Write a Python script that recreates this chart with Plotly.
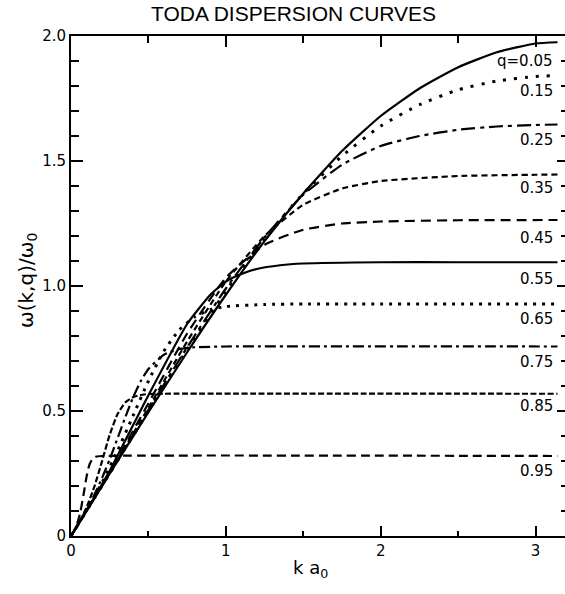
import plotly.graph_objects as go

# Toda lattice dispersion curves, omega(k, q) / omega_0 versus k a_0
k05 = [0, 0.25, 0.5, 0.75, 1.0, 1.25, 1.5, 1.75, 2.0, 2.25, 2.5, 2.75, 3.0, 3.1416]
w05 = [0, 0.25, 0.495, 0.735, 0.965, 1.18, 1.37, 1.54, 1.68, 1.79, 1.875, 1.935, 1.97, 1.975]

k15 = [0, 0.25, 0.5, 0.75, 1.0, 1.25, 1.5, 1.75, 2.0, 2.25, 2.5, 2.75, 3.0, 3.1416]
w15 = [0, 0.25, 0.50, 0.745, 0.98, 1.19, 1.37, 1.52, 1.64, 1.725, 1.785, 1.82, 1.838, 1.842]

k25 = [0, 0.25, 0.5, 0.75, 1.0, 1.25, 1.5, 1.75, 2.0, 2.25, 2.5, 2.75, 3.0, 3.1416]
w25 = [0, 0.25, 0.505, 0.755, 0.99, 1.195, 1.365, 1.485, 1.56, 1.60, 1.625, 1.638, 1.644, 1.646]

k35 = [0, 0.25, 0.5, 0.75, 1.0, 1.25, 1.5, 1.75, 2.0, 2.5, 3.0, 3.1416]
w35 = [0, 0.252, 0.513, 0.778, 1.018, 1.20, 1.325, 1.39, 1.42, 1.44, 1.445, 1.446]

k45 = [0, 0.25, 0.5, 0.75, 1.0, 1.25, 1.5, 1.75, 2.0, 2.5, 3.1416]
w45 = [0, 0.255, 0.531, 0.81, 1.033, 1.165, 1.225, 1.25, 1.258, 1.263, 1.264]

k55 = [0, 0.1, 0.25, 0.5, 0.75, 0.9, 1.0, 1.1, 1.2, 1.35, 1.5, 2.0, 2.5, 3.1416]
w55 = [0, 0.101, 0.261, 0.563, 0.848, 0.965, 1.018, 1.048, 1.068, 1.083, 1.09, 1.095, 1.095, 1.095]

k65 = [0, 0.1, 0.2, 0.3, 0.4, 0.5, 0.6, 0.7, 0.8, 0.9, 1.0, 1.25, 1.5, 2.0, 3.1416]
w65 = [0, 0.102, 0.213, 0.34, 0.48, 0.62, 0.74, 0.825, 0.877, 0.905, 0.918, 0.926, 0.928, 0.928, 0.928]

k75 = [0, 0.05, 0.1, 0.15, 0.2, 0.25, 0.3, 0.35, 0.4, 0.45, 0.5, 0.6, 0.7, 0.8, 1.0, 3.1416]
w75 = [0, 0.051, 0.104, 0.164, 0.231, 0.307, 0.39, 0.474, 0.553, 0.619, 0.668, 0.725, 0.748, 0.755, 0.758, 0.758]

k85 = [0, 0.05, 0.1, 0.15, 0.2, 0.25, 0.3, 0.35, 0.4, 0.45, 0.5, 0.6, 3.1416]
w85 = [0, 0.052, 0.114, 0.196, 0.298, 0.405, 0.487, 0.534, 0.555, 0.564, 0.568, 0.569, 0.569]

k95 = [0, 0.02, 0.04, 0.06, 0.08, 0.1, 0.12, 0.14, 0.16, 0.2, 3.1416]
w95 = [0, 0.021, 0.050, 0.095, 0.162, 0.236, 0.287, 0.309, 0.317, 0.320, 0.320]

q_labels = ["q=0.05", "0.15", "0.25", "0.35", "0.45", "0.55", "0.65", "0.75", "0.85", "0.95"]
q_label_y = [1.90, 1.78, 1.586, 1.393, 1.193, 1.03, 0.867, 0.696, 0.52, 0.261]

y_tick_vals = [0, 0.5, 1.0, 1.5, 2.0]
y_tick_text = ["0", "0.5", "1.0", "1.5", "2.0"]
x_tick_vals = [0, 1, 2, 3]
x_tick_text = ["0", "1", "2", "3"]

TITLE_FONT = "Liberation Sans, Arial, sans-serif"
NUM_FONT = "DejaVu Sans, Verdana, sans-serif"

series = [
    (k05, w05, dict(width=2.2)),
    (k15, w15, dict(width=3, dash="3px,8px")),
    (k25, w25, dict(width=2.2, dash="14px,5px,4px,5px")),
    (k35, w35, dict(width=2.2, dash="6px,4px")),
    (k45, w45, dict(width=2.2, dash="10px,6px")),
    (k55, w55, dict(width=2.2)),
    (k65, w65, dict(width=3, dash="3px,6px")),
    (k75, w75, dict(width=2.2, dash="11px,4px,3px,4px")),
    (k85, w85, dict(width=2.2, dash="6px,2.5px")),
    (k95, w95, dict(width=2.2, dash="9px,5px")),
]

fig = go.Figure()
for kx, wy, ln in series:
    fig.add_trace(go.Scatter(
        x=kx, y=wy, mode="lines",
        line=dict(color="black", shape="spline", smoothing=0.5, **ln),
        showlegend=False, hoverinfo="skip",
    ))

# empty trace so the top / right tick axes are drawn
fig.add_trace(go.Scatter(x=[], y=[], xaxis="x2", yaxis="y2", showlegend=False))

X_RANGE = [0, 3.19]
Y_RANGE = [0, 2.0]

fig.update_layout(
    width=565, height=594,
    margin=dict(l=71, r=0, t=36, b=58),
    paper_bgcolor="white", plot_bgcolor="white",
    font=dict(family=NUM_FONT, color="black", size=15),
    xaxis=dict(
        range=X_RANGE, showgrid=False, zeroline=False,
        showline=True, linecolor="black", linewidth=2,
        ticks="inside", ticklen=10, tickwidth=2, tickcolor="black",
        tickvals=x_tick_vals, ticktext=x_tick_text,
        tickfont=dict(family=NUM_FONT, size=15),
        minor=dict(ticks="inside", tickvals=[0.5, 1.5, 2.5], ticklen=5, tickwidth=2, tickcolor="black"),
    ),
    xaxis2=dict(
        range=X_RANGE, overlaying="x", side="top", showgrid=False, zeroline=False,
        showline=True, linecolor="black", linewidth=2,
        ticks="inside", ticklen=11, tickwidth=2, tickcolor="black",
        tickvals=[1, 2, 3], showticklabels=False,
        minor=dict(ticks="inside", tickvals=[0.5, 1.5, 2.5], ticklen=7, tickwidth=2, tickcolor="black"),
    ),
    yaxis=dict(
        range=Y_RANGE, showgrid=False, zeroline=False,
        showline=True, linecolor="black", linewidth=2,
        ticks="inside", ticklen=12, tickwidth=2, tickcolor="black",
        tickvals=y_tick_vals, ticktext=y_tick_text,
        tickfont=dict(family=NUM_FONT, size=15),
        minor=dict(ticks="inside", dtick=0.1, tick0=0, ticklen=8, tickwidth=2, tickcolor="black"),
    ),
    yaxis2=dict(
        range=Y_RANGE, overlaying="y", side="right", showgrid=False, zeroline=False,
        showline=False, anchor="x",
        ticks="inside", ticklen=8, tickwidth=2, tickcolor="black",
        tickvals=[0.5, 1.0, 1.5], showticklabels=False,
        minor=dict(ticks="inside", dtick=0.1, tick0=0, ticklen=4, tickwidth=2, tickcolor="black"),
    ),
)

annotations = [
    dict(text="TODA DISPERSION CURVES", xref="paper", yref="paper",
         x=0.451, y=1.044, xanchor="center", yanchor="middle", showarrow=False,
         font=dict(family=TITLE_FONT, size=21)),
    dict(text="\u03c9(k,q)/\u03c9<sub>0</sub>", xref="paper", yref="paper",
         x=-0.089, y=0.51, xanchor="center", yanchor="middle", textangle=-90,
         showarrow=False, font=dict(family=NUM_FONT, size=20)),
    dict(text="k a<sub>0</sub>", xref="paper", yref="paper",
         x=0.484, y=-0.066, xanchor="center", yanchor="middle",
         showarrow=False, font=dict(family=NUM_FONT, size=18)),
]
for lab, yy in zip(q_labels, q_label_y):
    annotations.append(dict(text=lab, x=3.125, y=yy, xref="x", yref="y",
                            xanchor="right", yanchor="middle", showarrow=False,
                            font=dict(family=NUM_FONT, size=15)))
fig.update_layout(annotations=annotations)

fig.write_html("out.html")
